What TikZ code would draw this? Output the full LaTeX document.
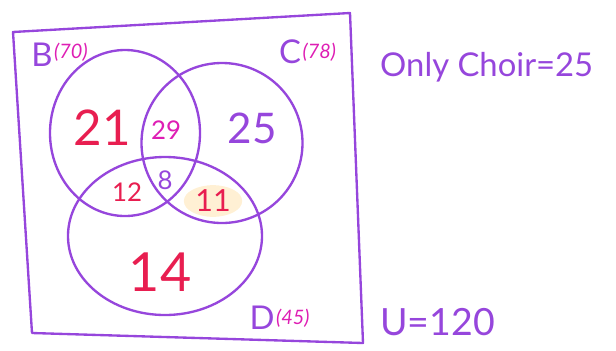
\documentclass[tikz,border=0pt]{standalone}
\usepackage{fontspec}
\setmainfont{Lato}
\usetikzlibrary{shapes.geometric, positioning}
\definecolor{penpurple}{RGB}{150,70,220}
\definecolor{penred}{RGB}{232,30,80}
\definecolor{penpink}{RGB}{222,30,180}
\definecolor{hilite}{RGB}{255,240,212}
\tikzset{
  setring/.style={ellipse, draw=penpurple, line width=2pt, inner sep=0pt},
  setname/.style={text=penpurple, font=\fontsize{28}{30}\selectfont, inner sep=0pt},
  setsize/.style={text=penpink, font=\fontsize{17}{19}\selectfont\itshape, inner sep=0pt},
  bignum/.style={font=\fontsize{42}{46}\selectfont, inner sep=0pt},
  smallnum/.style={font=\fontsize{22}{24}\selectfont, inner sep=0pt},
  note/.style={text=penpurple, anchor=west, inner sep=0pt}
}
\begin{document}
\begin{tikzpicture}[x=0.03cm, y=-0.03cm]
  \useasboundingbox (0,0) rectangle (616,350);

  % universe box
  \coordinate (u1) at (13,32);
  \coordinate (u2) at (350,13);
  \coordinate (u3) at (363,343);
  \coordinate (u4) at (32,333);
  \draw[penpurple, line width=2pt, line join=round] (u1) -- (u2) -- (u3) -- (u4) -- cycle;

  % highlight under 11
  \node[ellipse, fill=hilite, minimum width=1.75cm, minimum height=0.95cm, inner sep=0pt] (mark) at (213,201) {};

  % the three sets
  \node[setring, minimum width=4.5cm, minimum height=4.98cm] (B) at (125,133) {};
  \node[setring, minimum width=4.83cm, minimum height=4.8cm] (C) at (222,143) {};
  \node[setring, minimum width=5.82cm, minimum height=4.74cm] (D) at (165,236) {};

  % set labels
  \node[setname] (Bname) at (42,55) {B};
  \node[setsize, right=1pt of Bname.north east, anchor=north west] (Bsize) {(70)};
  \node[setname] (Cname) at (290,52) {C};
  \node[setsize, right=1pt of Cname.east, anchor=west] (Csize) {(78)};
  \node[setname] (Dname) at (262,318) {D};
  \node[setsize, right=1pt of Dname.east, anchor=west] (Dsize) {(45)};

  % region counts
  \node[bignum, text=penred] (n21) at (102,128) {21};
  \node[smallnum, text=penpink] (n29) at (166,130) {29};
  \node[bignum, text=penpurple, font=\fontsize{36}{40}\selectfont] (n25) at (252,128) {25};
  \node[smallnum, text=penred] (n12) at (127,192) {12};
  \node[smallnum, text=penpurple] (n8) at (165,180) {8};
  \node[smallnum, text=penred, font=\fontsize{26}{28}\selectfont] (n11) at (213,201) {11};
  \node[bignum, text=penred, font=\fontsize{46}{50}\selectfont] (n14) at (160,272) {14};

  % notes
  \node[note, font=\fontsize{28}{30}\selectfont] (only) at (380,67) {Only Choir{=}25};
  \node[note, font=\fontsize{32}{34}\selectfont] (total) at (380,322) {U{=}120};
\end{tikzpicture}
\end{document}
